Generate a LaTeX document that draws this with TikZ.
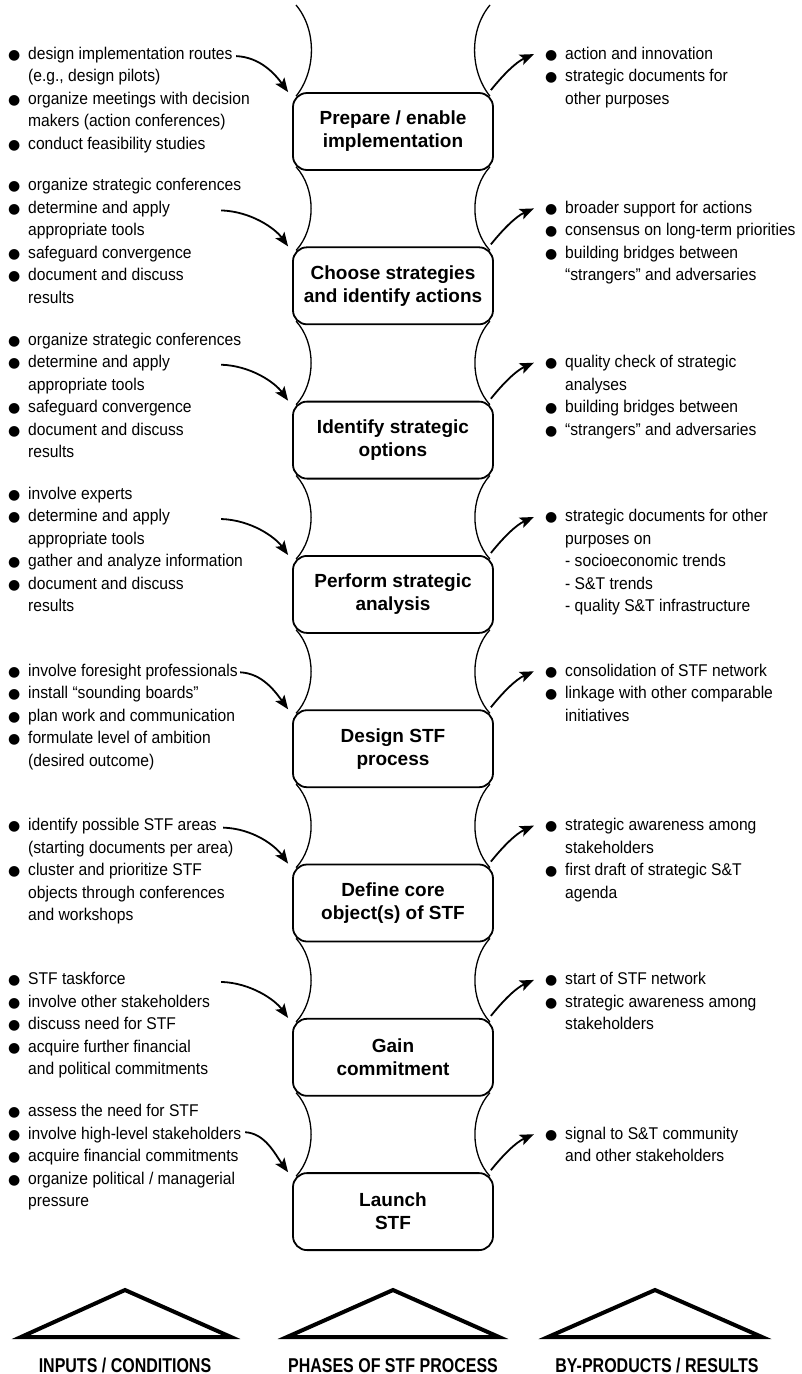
\documentclass[tikz,border=0pt]{standalone}
\usepackage{fontspec}
\setmainfont{Liberation Sans}
\newfontfamily\txtfont[FakeStretch=0.92]{Liberation Sans}
\newfontfamily\labfont[FakeStretch=0.8]{Liberation Sans}
\newfontfamily\dejavu{DejaVu Sans}
\usetikzlibrary{arrows.meta,calc}
\newcommand\bulglyph{{\dejavu\fontsize{14}{14}\selectfont ●}}
\newcommand\bi{\makebox[20pt][l]{\bulglyph}}
\newcommand\ci{\hspace*{20pt}}
\tikzset{
  txt/.style={inner sep=0pt, anchor=base west, font=\txtfont\fontsize{17}{22.5}\selectfont},
  phase/.style={draw, line width=1.8pt, rounded corners=14pt, minimum width=200pt,
    minimum height=77pt, inner sep=0pt, fill=white, align=center,
    font=\bfseries\fontsize{19}{23}\selectfont},
  side/.style={line width=1.3pt},
  arr/.style={line width=1.8pt, -{Stealth[length=14pt,width=11pt,inset=3pt]}},
  tri/.style={line width=4pt, miter limit=10},
  lab/.style={inner sep=0pt, anchor=base, font=\labfont\bfseries\fontsize{20}{20}\selectfont}
}
\begin{document}
\begin{tikzpicture}[x=1pt,y=-1pt]
\fill[white] (0,0) rectangle (802,1374);
\useasboundingbox (0,0) rectangle (802,1374);

% phase boxes
\node[phase] (b1) at (393,131.5) {Prepare / enable\\implementation};
\node[phase] (b2) at (393,285.8) {Choose strategies\\and identify actions};
\node[phase] (b3) at (393,440.1) {Identify strategic\\options};
\node[phase] (b4) at (393,594.4) {Perform strategic\\analysis};
\node[phase] (b5) at (393,748.7) {Design STF\\process};
\node[phase] (b6) at (393,903.0) {Define core\\object(s) of STF};
\node[phase] (b7) at (393,1057.3) {Gain\\commitment};
\node[phase] (b8) at (393,1211.6) {Launch\\STF};

% side curves
\coordinate (tl) at (296,5);
\coordinate (tr) at (490,5);
\draw[side] (tl) .. controls +(21,25) and +(20,-25) .. ([xshift=4pt,yshift=-4pt]b1.north west);
\draw[side] (tr) .. controls +(-21,25) and +(-20,-25) .. ([xshift=-4pt,yshift=-4pt]b1.north east);
\foreach \i [evaluate=\i as \j using int(\i+1)] in {1,...,7} {
  \draw[side] ([xshift=4pt,yshift=4pt]b\i.south west) .. controls +(20,22) and +(20,-22) .. ([xshift=4pt,yshift=-4pt]b\j.north west);
  \draw[side] ([xshift=-4pt,yshift=4pt]b\i.south east) .. controls +(-20,22) and +(-20,-22) .. ([xshift=-4pt,yshift=-4pt]b\j.north east);
}

% arrows
\foreach \i/\dx/\dy/\c in {1/-56/-36/24, 2/-71/-36/30, 3/-71/-36/30, 4/-71/-36/30,
                           5/-52/-37/22, 6/-69/-36/30, 7/-71/-36/30, 8/-47/-40/20} {
  \coordinate (la\i) at ($(b\i.north west)+(\dx,\dy)$);
  \coordinate (ra\i) at ($(b\i.north east)+(40,-38)$);
  \draw[arr] (la\i) .. controls +(\c,1) and +(-13,-18) .. ([xshift=-4pt]b\i.north west);
  \draw[arr] ([xshift=-3pt,yshift=2pt]b\i.north east) .. controls +(12,-15) and +(-18,8) .. (ra\i);
}

% left texts
\node[txt] (l1) at (8,59) {\begin{tabular}[t]{@{}l@{}}
\bi design implementation routes\\
\ci (e.g., design pilots)\\
\bi organize meetings with decision\\
\ci makers (action conferences)\\
\bi conduct feasibility studies
\end{tabular}};
\node[txt] (l2) at (8,190.8) {\begin{tabular}[t]{@{}l@{}}
\bi organize strategic conferences\\
\bi determine and apply\\
\ci appropriate tools\\
\bi safeguard convergence\\
\bi document and discuss\\
\ci results
\end{tabular}};
\node[txt] (l3) at (8,345.1) {\begin{tabular}[t]{@{}l@{}}
\bi organize strategic conferences\\
\bi determine and apply\\
\ci appropriate tools\\
\bi safeguard convergence\\
\bi document and discuss\\
\ci results
\end{tabular}};
\node[txt] (l4) at (8,499.4) {\begin{tabular}[t]{@{}l@{}}
\bi involve experts\\
\bi determine and apply\\
\ci appropriate tools\\
\bi gather and analyze information\\
\bi document and discuss\\
\ci results
\end{tabular}};
\node[txt] (l5) at (8,676.2) {\begin{tabular}[t]{@{}l@{}}
\bi involve foresight professionals\\
\bi install “sounding boards”\\
\bi plan work and communication\\
\bi formulate level of ambition\\
\ci (desired outcome)
\end{tabular}};
\node[txt] (l6) at (8,830.5) {\begin{tabular}[t]{@{}l@{}}
\bi identify possible STF areas\\
\ci (starting documents per area)\\
\bi cluster and prioritize STF\\
\ci objects through conferences\\
\ci and workshops
\end{tabular}};
\node[txt] (l7) at (8,984.8) {\begin{tabular}[t]{@{}l@{}}
\bi STF taskforce\\
\bi involve other stakeholders\\
\bi discuss need for STF\\
\bi acquire further financial\\
\ci and political commitments
\end{tabular}};
\node[txt] (l8) at (8,1116.6) {\begin{tabular}[t]{@{}l@{}}
\bi assess the need for STF\\
\bi involve high-level stakeholders\\
\bi acquire financial commitments\\
\bi organize political / managerial\\
\ci pressure
\end{tabular}};

% right texts
\node[txt] (r1) at (545,59) {\begin{tabular}[t]{@{}l@{}}
\bi action and innovation\\
\bi strategic documents for\\
\ci other purposes
\end{tabular}};
\node[txt] (r2) at (545,213.3) {\begin{tabular}[t]{@{}l@{}}
\bi broader support for actions\\
\bi consensus on long-term priorities\\
\bi building bridges between\\
\ci “strangers” and adversaries
\end{tabular}};
\node[txt] (r3) at (545,367.6) {\begin{tabular}[t]{@{}l@{}}
\bi quality check of strategic\\
\ci analyses\\
\bi building bridges between\\
\bi “strangers” and adversaries
\end{tabular}};
\node[txt] (r4) at (545,521.9) {\begin{tabular}[t]{@{}l@{}}
\bi strategic documents for other\\
\ci purposes on\\
\ci - socioeconomic trends\\
\ci - S\&T trends\\
\ci - quality S\&T infrastructure
\end{tabular}};
\node[txt] (r5) at (545,676.2) {\begin{tabular}[t]{@{}l@{}}
\bi consolidation of STF network\\
\bi linkage with other comparable\\
\ci initiatives
\end{tabular}};
\node[txt] (r6) at (545,830.5) {\begin{tabular}[t]{@{}l@{}}
\bi strategic awareness among\\
\ci stakeholders\\
\bi first draft of strategic S\&T\\
\ci agenda
\end{tabular}};
\node[txt] (r7) at (545,984.8) {\begin{tabular}[t]{@{}l@{}}
\bi start of STF network\\
\bi strategic awareness among\\
\ci stakeholders
\end{tabular}};
\node[txt] (r8) at (545,1139.1) {\begin{tabular}[t]{@{}l@{}}
\bi signal to S\&T community\\
\ci and other stakeholders
\end{tabular}};

% triangles
\draw[tri] (125,1290) -- (231,1337) -- (21,1337) -- cycle;
\draw[tri] (393,1290) -- (499,1337) -- (287,1337) -- cycle;
\draw[tri] (655,1290) -- (762,1337) -- (548,1337) -- cycle;

% labels
\node[lab] (lab1) at (125,1372) {INPUTS / CONDITIONS};
\node[lab] (lab2) at (393,1372) {PHASES OF STF PROCESS};
\node[lab] (lab3) at (657,1372) {BY-PRODUCTS / RESULTS};
\end{tikzpicture}
\end{document}
